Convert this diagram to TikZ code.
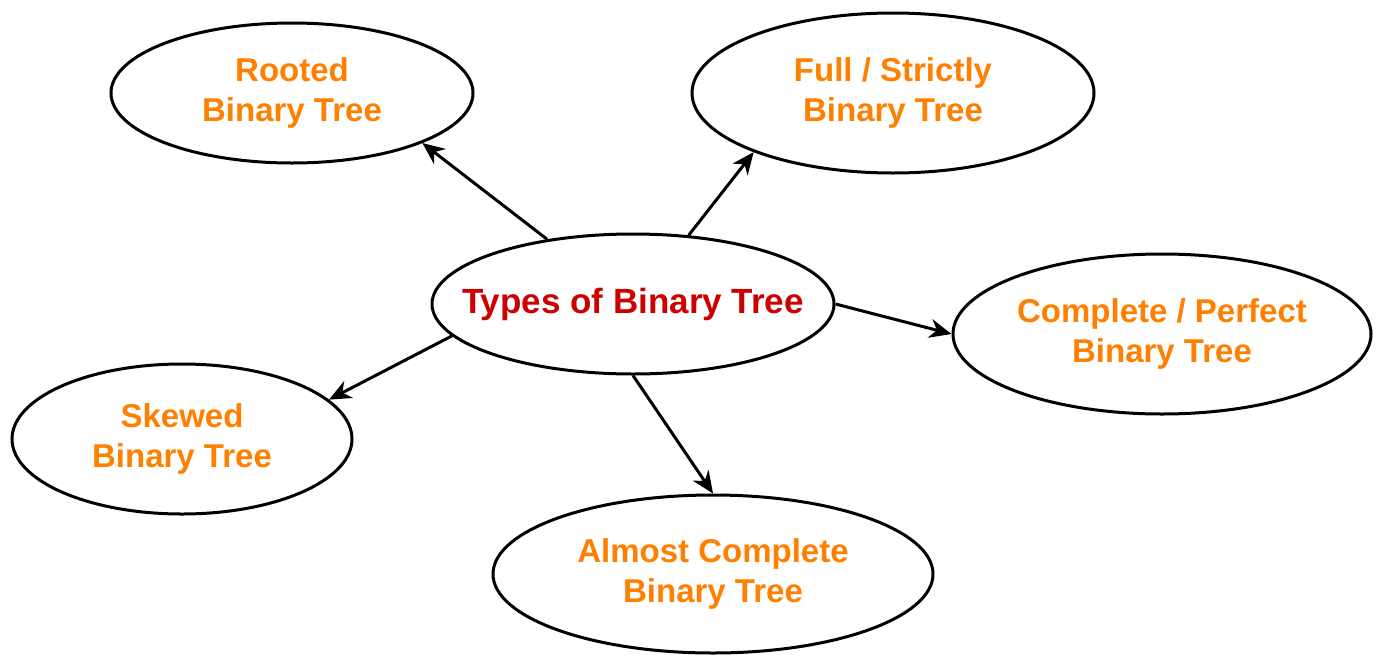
\documentclass[tikz,border=0pt]{standalone}
\usepackage{fontspec}
\setmainfont{Liberation Sans}
\usetikzlibrary{shapes.geometric,arrows.meta}
\definecolor{leaforange}{RGB}{255,128,0}
\definecolor{rootred}{RGB}{204,0,0}
\tikzset{
  kind/.style={draw=black, line width=3pt, ellipse, inner sep=0pt,
    align=center, font=\bfseries\fontsize{33}{40}\selectfont, text=leaforange},
  link/.style={line width=3pt, -{Stealth[length=22pt,width=19pt,inset=7pt]}}
}
\begin{document}
\begin{tikzpicture}[x=1pt,y=-1pt]
  \useasboundingbox (0,0) rectangle (1381,654);
  \node[kind, text=rootred, font=\bfseries\fontsize{35}{40}\selectfont,
        inner xsep=-30pt, minimum width=402pt, minimum height=140pt] (root) at (633,304) {Types of Binary Tree};
  \node[kind, minimum width=362pt, minimum height=140pt] (rooted) at (292,93) {Rooted\\Binary Tree};
  \node[kind, minimum width=402pt, minimum height=160pt] (full) at (893,93) {Full / Strictly\\Binary Tree};
  \node[kind, minimum width=418pt, minimum height=160pt] (complete) at (1162,334) {Complete / Perfect\\Binary Tree};
  \node[kind, minimum width=340pt, minimum height=150pt] (skewed) at (182,439) {Skewed\\Binary Tree};
  \node[kind, minimum width=440pt, minimum height=158pt] (almost) at (713,574) {Almost Complete\\Binary Tree};
  \draw[link] (root.143) -- (rooted.-21);
  \draw[link] (root.51) -- (full.-157);
  \draw[link] (root.0) -- (complete.180);
  \draw[link] (root.-170) -- (skewed.15);
  \draw[link] (root.-90) -- (almost.90);
\end{tikzpicture}
\end{document}
